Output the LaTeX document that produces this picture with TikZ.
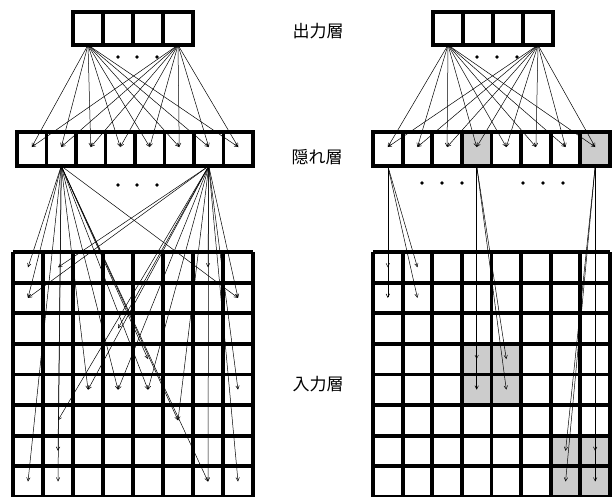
\documentclass[tikz,border=0pt]{standalone}
\usepackage{fontspec}
\newfontfamily\jp{Noto Sans CJK JP}
\usetikzlibrary{arrows.meta}
\begin{document}
\begin{tikzpicture}[x=1pt,y=-1pt,
  frame/.style={line width=3.8pt},
  link/.style={line width=0.5pt,-{Straight Barb[length=3.5pt,width=3.5pt]}},
  shadecell/.style={fill=gray!40},
  dot/.style={circle,fill=black,inner sep=0pt,minimum size=3.8pt},
  lbl/.style={font=\jp\fontsize{17}{17}\selectfont,inner sep=0pt}]
\clip (0,0) rectangle (613,496);
\fill[white] (0,0) rectangle (613,496);

% ---------- shaded cells (right panel) ----------
\foreach \i in {4,8}
  \fill[shadecell] ({373+29.625*(\i-1)},132) rectangle ++(29.625,34);
\foreach \r/\c in {4/4,4/5,5/4,5/5,7/7,7/8,8/7,8/8}
  \fill[shadecell] ({373+29.625*(\c-1)},{252+30.6*(\r-1)}) rectangle ++(29.625,30.6);

% ---------- output layers ----------
\draw[frame] (73,12) rectangle (193,45);
\foreach \x in {103,133,163} \draw[frame] (\x,12) -- (\x,45);
\draw[frame] (433,12) rectangle (553,45);
\foreach \x in {463,493,523} \draw[frame] (\x,12) -- (\x,45);

% ---------- hidden layers ----------
\draw[frame] (17,132) rectangle (253,166);
\foreach \i in {1,...,7} \draw[frame] ({17+29.5*\i},132) -- ({17+29.5*\i},166);
\draw[frame] (373,132) rectangle (610,166);
\foreach \i in {1,...,7} \draw[frame] ({373+29.625*\i},132) -- ({373+29.625*\i},166);

% ---------- input grids ----------
\foreach \i in {0,...,8} {
  \draw[frame] ({13+30*\i},252) -- ({13+30*\i},500);
  \draw[frame] (13,{252+30.6*\i}) -- (253,{252+30.6*\i});
  \draw[frame] ({373+29.625*\i},252) -- ({373+29.625*\i},500);
  \draw[frame] (373,{252+30.6*\i}) -- (610,{252+30.6*\i});
}

% ---------- coordinates ----------
\coordinate (LO1) at (88,45);
\coordinate (LO4) at (178,45);
\coordinate (RO1) at (448,45);
\coordinate (RO4) at (538,45);
\foreach \i in {1,...,8} {
  \coordinate (LH-\i) at ({17+29.5*(\i-0.5)},147);
  \coordinate (RH-\i) at ({373+29.625*(\i-0.5)},147);
  \coordinate (LHb-\i) at ({17+29.5*(\i-0.5)},166);
  \coordinate (RHb-\i) at ({373+29.625*(\i-0.5)},166);
}
\foreach \r in {1,...,8} \foreach \c in {1,...,8} {
  \coordinate (LI-\r-\c) at ({13+30*(\c-0.5)},{252+30.6*(\r-0.5)});
  \coordinate (RI-\r-\c) at ({373+29.625*(\c-0.5)},{252+30.6*(\r-0.5)});
}

% ---------- output -> hidden ----------
\foreach \i in {1,...,8} {
  \draw[link] (LO1) -- (LH-\i);
  \draw[link] (LO4) -- (LH-\i);
  \draw[link] (RO1) -- (RH-\i);
  \draw[link] (RO4) -- (RH-\i);
}

% ---------- hidden -> input (left, fully connected sample) ----------
\foreach \t in {1-1,2-1,8-1,8-2,7-2,5-3,5-4,5-5,4-5,2-8,8-7,6-6}
  \draw[link] (LHb-2) -- (LI-\t);
\foreach \t in {1-2,2-1,6-2,5-3,5-4,5-5,3-4,6-6,8-7,1-7,8-8,2-8,5-8}
  \draw[link] (LHb-7) -- (LI-\t);

% ---------- hidden -> input (right, local fields) ----------
\foreach \t in {1-1,2-1,1-2,2-2} \draw[link] (RHb-1) -- (RI-\t);
\foreach \t in {4-4,5-4,4-5,5-5} \draw[link] (RHb-4) -- (RI-\t);
\foreach \t in {7-7,8-7,7-8,8-8} \draw[link] (RHb-8) -- (RI-\t);

% ---------- dots ----------
\foreach \x [count=\k] in {118,137,157} {
  \node[dot] (dlt\k) at (\x,57) {};
  \node[dot] (dlm\k) at (\x,185) {};
}
\foreach \x [count=\k] in {477,497,517} \node[dot] (drt\k) at (\x,57) {};
\foreach \x [count=\k] in {422,442,462,523,543,563} \node[dot] (drm\k) at (\x,183) {};

% ---------- labels ----------
\node[lbl] (lout) at (318,31) {出力層};
\node[lbl] (lhid) at (317,157) {隠れ層};
\node[lbl] (linp) at (318,384) {入力層};
\end{tikzpicture}
\end{document}
